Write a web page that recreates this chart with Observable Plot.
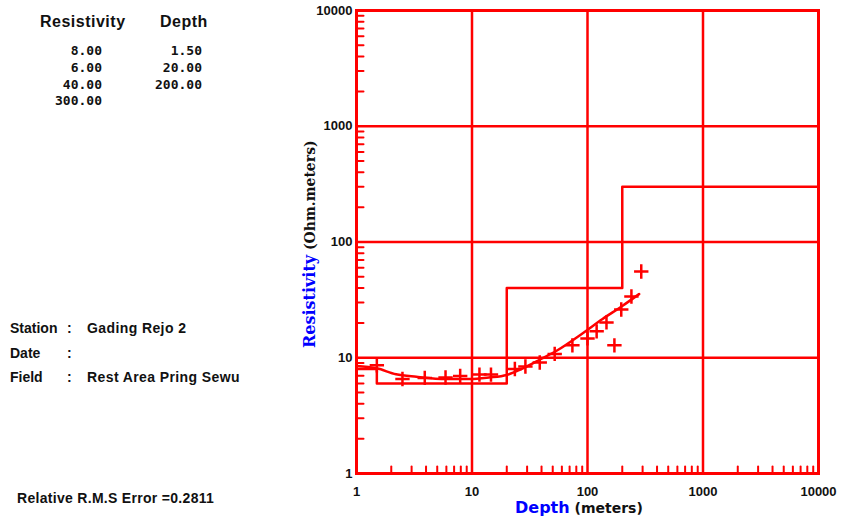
<!DOCTYPE html>
<html>
<head>
<meta charset="utf-8">
<script src="https://cdn.jsdelivr.net/npm/d3@7"></script>
<script src="https://cdn.jsdelivr.net/npm/@observablehq/plot@0.6"></script>
<style>
  html, body { margin: 0; padding: 0; background: #fff; }
  #chart { position: relative; width: 841px; height: 522px; }
</style>
</head>
<body>
<div id="chart"></div>
<script>
// ---- Layered model (interpreted) ----
const modelRes = [8, 6, 40, 300];
const modelDepth = [1.5, 20, 200];

// ---- Observed apparent resistivity (crosses) ----
const obsDepth = [1.5, 2.5, 3.9, 5.9, 7.9, 11.6, 14.6, 23.5, 29, 38.6, 52, 74, 100, 120, 146, 171, 196, 240, 292];
const obsRho   = [8.6, 6.55, 6.7, 6.75, 6.95, 7.15, 7.15, 8.0, 8.4, 9.1, 10.8, 12.8, 14.7, 16.9, 20.2, 12.8, 26.1, 33.8, 55.6];

// ---- Calculated curve ----
const calcDepth = [1, 1.5, 2.2, 3.3, 6, 9.6, 14, 20, 27, 40, 54, 91, 135, 200, 280];
const calcRho   = [8.5, 8.1, 7.2, 6.85, 6.55, 6.55, 6.75, 7.1, 8.0, 9.8, 11.5, 16.3, 21.6, 28, 35.5];

// ---- Axes ----
const axisDomain = [1, 10000];
const decadeTicks = [1, 10, 100, 1000, 10000];
const gridTicks = [10, 100, 1000];

// ---- Text ----
const stationLabels = ["Station", "Date", "Field"];
const stationValues = ["Gading Rejo 2", "", "Rest Area Pring Sewu"];
const rmsText = "Relative R.M.S Error =0.2811";

const minorTicks = [];
for (const d of [1, 10, 100, 1000]) for (let k = 2; k <= 9; k++) minorTicks.push(d * k);

const modelData = modelRes.map((r, i) => ({depth: i === 0 ? axisDomain[0] : modelDepth[i - 1], rho: r}));
modelData.push({depth: axisDomain[1], rho: modelRes[modelRes.length - 1]});
const obsData = obsDepth.map((d, i) => ({depth: d, rho: obsRho[i]}));
const calcData = calcDepth.map((d, i) => ({depth: d, rho: calcRho[i]}));

const tickShape = {draw(ctx, l) { ctx.moveTo(0, 0); ctx.lineTo(0, -l); }};
const RED = "#ff0000";
const fmt = d3.format("d");

const svgPlot = Plot.plot({
  width: 841, height: 522,
  marginLeft: 356, marginRight: 23, marginTop: 10, marginBottom: 49,
  x: {type: "log", domain: axisDomain},
  y: {type: "log", domain: axisDomain},
  style: {fontFamily: "'Liberation Sans', Arial, sans-serif", background: "#fff", overflow: "visible"},
  marks: [
    Plot.gridX(gridTicks, {stroke: RED, strokeOpacity: 1, strokeWidth: 2.5}),
    Plot.gridY(gridTicks, {stroke: RED, strokeOpacity: 1, strokeWidth: 2.5}),
    Plot.vector(minorTicks, {x: d => d, y: axisDomain[0], length: 7, rotate: 0, anchor: "start", shape: tickShape, stroke: RED, strokeWidth: 2}),
    Plot.vector(minorTicks, {x: axisDomain[0], y: d => d, length: 7, rotate: 90, anchor: "start", shape: tickShape, stroke: RED, strokeWidth: 2}),
    Plot.line(modelData, {x: "depth", y: "rho", curve: "step-after", stroke: RED, strokeWidth: 2.5}),
    Plot.line(calcData, {x: "depth", y: "rho", curve: "monotone-x", stroke: RED, strokeWidth: 2.5}),
    Plot.dot(obsData, {x: "depth", y: "rho", symbol: "plus", r: 4.7, stroke: RED, strokeWidth: 2.5}),
    Plot.frame({stroke: RED, strokeWidth: 3}),
    Plot.axisX(decadeTicks, {tickSize: 0, tickPadding: 13, tickFormat: fmt, fontSize: 13, fontWeight: "bold", fill: "#111", label: null}),
    Plot.axisY(decadeTicks, {tickSize: 0, tickPadding: 4, tickFormat: fmt, fontSize: 13, fontWeight: "bold", fill: "#111", label: null})
  ]
});
document.getElementById("chart").appendChild(svgPlot);

const svg = d3.select(svgPlot);
const g = svg.append("g").attr("fill", "#111").attr("text-anchor", "start");

// Table of model values
const sans = "'Liberation Sans', Arial, sans-serif";
const mono = "'DejaVu Sans Mono', monospace";
g.append("text").attr("x", 40).attr("y", 27).attr("font-family", sans).attr("font-weight", "bold").attr("font-size", 16).attr("letter-spacing", 0.5).text("Resistivity");
g.append("text").attr("x", 160).attr("y", 27).attr("font-family", sans).attr("font-weight", "bold").attr("font-size", 16).attr("letter-spacing", 0.5).text("Depth");
const rowY = [55, 72, 88.5, 105];
modelRes.forEach((r, i) => {
  g.append("text").attr("x", 102).attr("y", rowY[i]).attr("text-anchor", "end").attr("font-family", mono).attr("font-weight", "bold").attr("font-size", 13).text(r.toFixed(2));
});
modelDepth.forEach((d, i) => {
  g.append("text").attr("x", 202).attr("y", rowY[i]).attr("text-anchor", "end").attr("font-family", mono).attr("font-weight", "bold").attr("font-size", 13).text(d.toFixed(2));
});

// Station block
const stY = [333, 357.5, 382];
stationLabels.forEach((s, i) => {
  g.append("text").attr("x", 10).attr("y", stY[i]).attr("font-family", sans).attr("font-weight", "bold").attr("font-size", 14).text(s);
  g.append("text").attr("x", 67).attr("y", stY[i]).attr("font-family", sans).attr("font-weight", "bold").attr("font-size", 14).text(":");
  g.append("text").attr("x", 87).attr("y", stY[i]).attr("font-family", sans).attr("font-weight", "bold").attr("font-size", 14).attr("letter-spacing", 0.4).text(stationValues[i]);
});
g.append("text").attr("x", 17).attr("y", 503).attr("font-family", sans).attr("font-weight", "bold").attr("font-size", 14).attr("letter-spacing", 0.3).text(rmsText);

// Axis titles
const yl = g.append("text").attr("transform", "translate(315,348) rotate(-90)").attr("font-family", "'DejaVu Serif', serif").attr("font-weight", "bold");
yl.append("tspan").attr("fill", "#0000ff").attr("font-size", 16).text("Resistivity");
yl.append("tspan").attr("fill", "#111").attr("font-size", 14).text(" (Ohm.meters)");

const xl = g.append("text").attr("x", 515).attr("y", 513).attr("font-family", "'DejaVu Sans', sans-serif").attr("font-weight", "bold");
xl.append("tspan").attr("fill", "#0000ff").attr("font-size", 16).text("Depth");
xl.append("tspan").attr("fill", "#111").attr("font-size", 14).text(" (meters)");
</script>
</body>
</html>
